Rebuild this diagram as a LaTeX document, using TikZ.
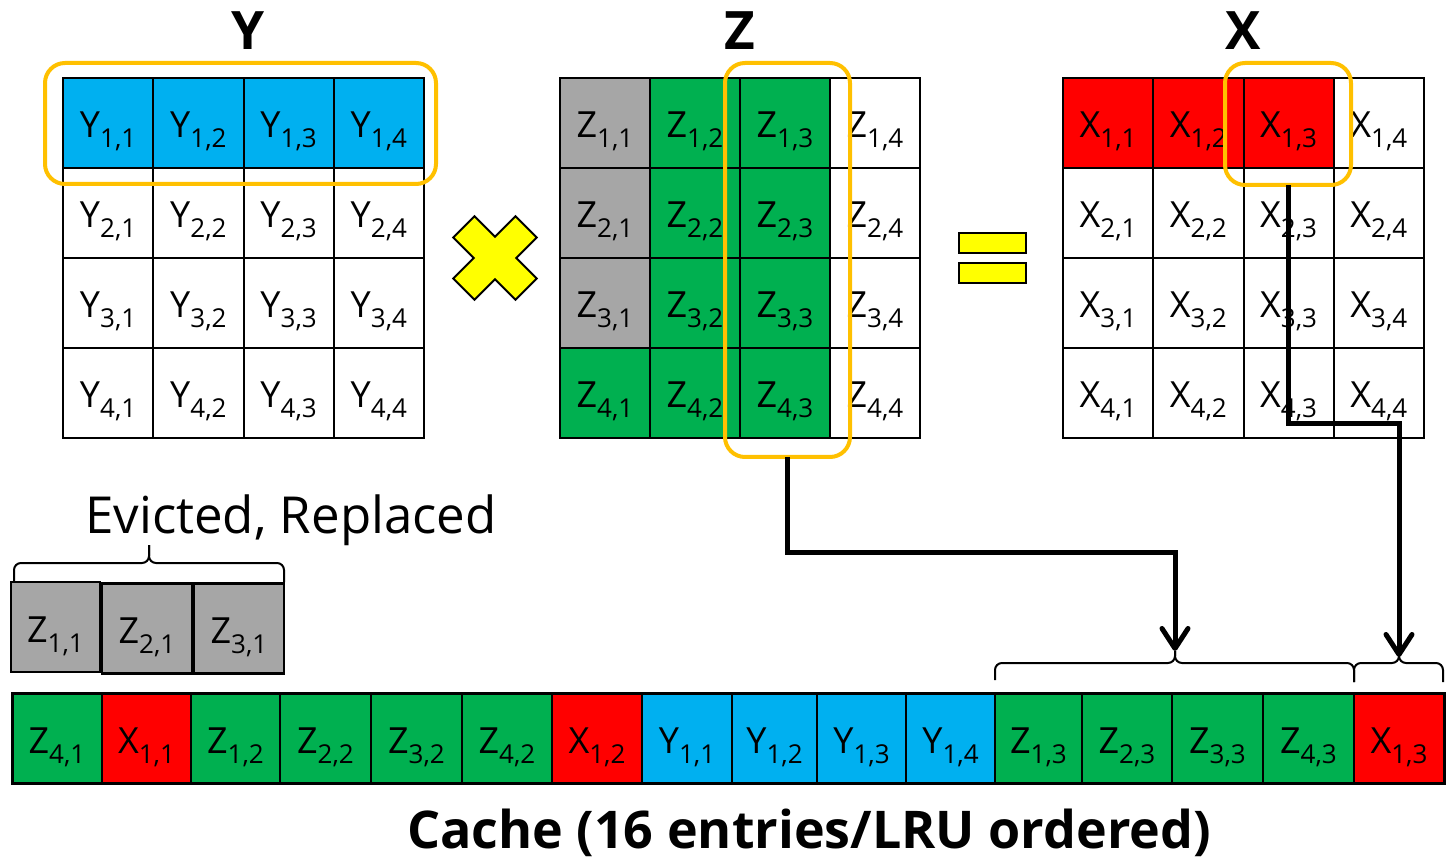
\documentclass[tikz,border=0pt]{standalone}
\usepackage{fontspec}
\setmainfont{Open Sans}
\usetikzlibrary{arrows.meta}
\definecolor{cblue}{HTML}{00B0F0}
\definecolor{cgreen}{HTML}{00B050}
\definecolor{cred}{HTML}{FF0000}
\definecolor{cgray}{HTML}{A6A6A6}
\definecolor{corange}{HTML}{FFC000}
\definecolor{cyellow}{HTML}{FFFF00}
\newcommand{\ent}[2]{#1\raisebox{-10pt}{\fontsize{26}{26}\selectfont #2}}
\begin{document}
\begin{tikzpicture}[x=1pt,y=-1pt,
  cell/.style={draw=black, line width=2pt, minimum width=90.25pt, minimum height=90pt, inner sep=0pt, outer sep=0pt, text height=40pt, text depth=10pt, font=\fontsize{36}{36}\selectfont},
  hl/.style={draw=corange, line width=4pt, rounded corners=20pt, inner sep=0pt, outer sep=0pt, anchor=north west},
  arr/.style={line width=5pt, -{Straight Barb[length=20pt,width=26pt,round]}},
  brc/.style={line width=2pt, rounded corners=7pt},
  ttl/.style={font=\fontsize{53}{53}\selectfont\bfseries, anchor=base},
  eqbar/.style={draw=black, line width=2pt, fill=cyellow, minimum width=67pt, minimum height=20pt, inner sep=0pt, anchor=north west}]
\useasboundingbox (0,0) rectangle (1449,858);

% titles
\node[ttl] (ty) at (248,50) {Y};
\node[ttl] (tz) at (740,50) {Z};
\node[ttl] (tx) at (1243,50) {X};

% Y matrix
\foreach \r in {1,...,4}{
 \foreach \c in {1,...,4}{
  \ifnum\r=1 \def\fc{cblue}\else\def\fc{white}\fi
  \node[cell, fill=\fc] (Y\r\c) at ({63+90.25*(\c-0.5)},{78+90*(\r-0.5)}) {\ent{Y}{\r,\c}};
 }}
% Z matrix
\foreach \r in {1,...,4}{
 \foreach \c in {1,...,4}{
  \def\fc{cgreen}\ifnum\c=4 \def\fc{white}\fi\ifnum\c=1 \ifnum\r<4 \def\fc{cgray}\fi\fi
  \node[cell, fill=\fc, minimum width=90pt] (Z\r\c) at ({560+90*(\c-0.5)},{78+90*(\r-0.5)}) {\ent{Z}{\r,\c}};
 }}
% X matrix
\foreach \r in {1,...,4}{
 \foreach \c in {1,...,4}{
  \def\fc{white}\ifnum\r=1 \ifnum\c<4 \def\fc{cred}\fi\fi
  \node[cell, fill=\fc] (X\r\c) at ({1063+90.25*(\c-0.5)},{78+90*(\r-0.5)}) {\ent{X}{\r,\c}};
 }}

% operators
\begin{scope}[shift={(495,258)}, rotate=45]
\draw[fill=cyellow, line width=2pt] (15,15) -- (44,15) -- (44,-15) -- (15,-15) -- (15,-44) -- (-15,-44) -- (-15,-15) -- (-44,-15) -- (-44,15) -- (-15,15) -- (-15,44) -- (15,44) -- cycle;
\end{scope}
\node[eqbar] (eq1) at (958,232) {};
\node[eqbar] (eq2) at (958,262) {};

% highlights
\node[hl, minimum width=391pt, minimum height=121pt] (yhl) at (45,63) {};
\node[hl, minimum width=125pt, minimum height=394pt] (zhl) at (725,63) {};
\node[hl, minimum width=126pt, minimum height=122pt] (xhl) at (1225,63) {};

% evicted
\node[anchor=base, font=\fontsize{51}{51}\selectfont] (ev) at (291,533) {Evicted, Replaced};
\node[cell, fill=cgray, minimum width=89pt, line width=2.5pt] (E1) at (55.5,627) {\ent{Z}{1,1}};
\node[cell, fill=cgray, minimum width=90pt, line width=2.5pt] (E2) at (147,628.5) {\ent{Z}{2,1}};
\node[cell, fill=cgray, minimum width=90pt, line width=2.5pt] (E3) at (239,628.5) {\ent{Z}{3,1}};
\coordinate (ebr) at (149,545);
\draw[brc] (14,582) -- (14,563) -- (149,563) -- (ebr);
\draw[brc] (284,582) -- (284,563) -- (149,563) -- (ebr);

% cache
\foreach \i/\xl/\xr/\L/\s/\f in {
 1/12/102/Z/{4,1}/cgreen, 2/102/191/X/{1,1}/cred, 3/191/280/Z/{1,2}/cgreen,
 4/280/371/Z/{2,2}/cgreen, 5/371/462/Z/{3,2}/cgreen, 6/462/552/Z/{4,2}/cgreen,
 7/552/642/X/{1,2}/cred, 8/642/732/Y/{1,1}/cblue, 9/732/817/Y/{1,2}/cblue,
 10/817/906/Y/{1,3}/cblue, 11/906/995/Y/{1,4}/cblue, 12/995/1082/Z/{1,3}/cgreen,
 13/1082/1172/Z/{2,3}/cgreen, 14/1172/1263/Z/{3,3}/cgreen, 15/1263/1354/Z/{4,3}/cgreen,
 16/1354/1444/X/{1,3}/cred}{
  \node[cell, fill=\f, minimum width={(\xr-\xl)*1pt}] (C\i) at ({(\xl+\xr)/2},738) {\ent{\L}{\s}};
}
\draw[line width=3pt] (C1.north west) rectangle (C16.south east);
\node[anchor=base, font=\fontsize{52}{52}\selectfont\bfseries] (cl) at (809,848) {Cache (16 entries/LRU ordered)};

% cache braces
\coordinate (zbr) at (1175,651);
\draw[brc] (995,680) -- (995,663) -- (1175,663) -- (zbr);
\draw[brc] (1354,682) -- (1354,663) -- (1175,663) -- (zbr);
\coordinate (xbr) at (1399,657);
\draw[brc] (1354,682) -- (1354,663) -- (1399,663) -- (xbr);
\draw[brc] (1443,682) -- (1443,663) -- (1399,663) -- (xbr);

% arrows
\coordinate (zturn) at (1175,552);
\draw[arr] (zhl.south) |- (zturn) -- (zbr);
\coordinate (xturn) at (1399,424);
\draw[arr] (xhl.south) |- (xturn) -- (xbr);
\end{tikzpicture}
\end{document}
